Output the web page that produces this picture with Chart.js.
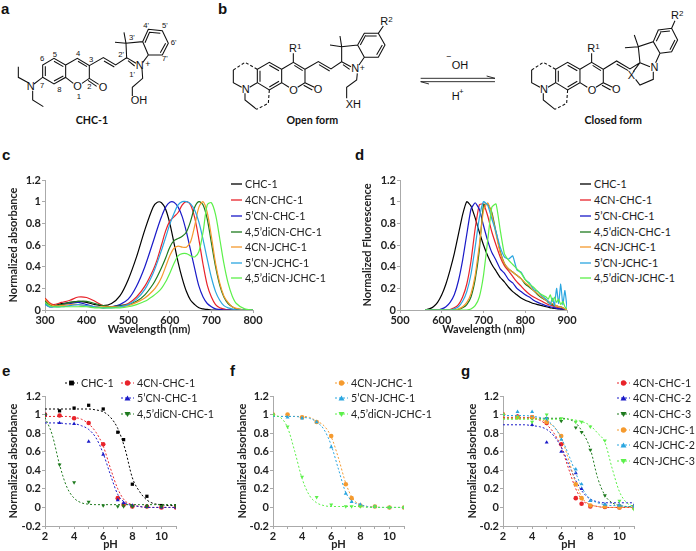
<!DOCTYPE html>
<html>
<head>
<meta charset="utf-8">
<title>CHC-1 probes</title>
<script src="https://cdn.jsdelivr.net/npm/chart.js@4"></script>
<style>
  html, body { margin: 0; padding: 0; background: #fff; }
  body { position: relative; width: 696px; height: 551px; overflow: hidden; font-family: Lato, sans-serif; }
  canvas { position: absolute; }
  #structures { position: absolute; left: 0; top: 0; }
  #structures text { font-family: "Liberation Sans", sans-serif; fill: #111; }
  #structures text.cap { font-family: Lato, sans-serif; }
  .letter { position: absolute; font: bold 15px "Liberation Sans", sans-serif; color: #111; }
  .leg { position: absolute; font-size: 10.7px; line-height: 14px; color: #222; white-space: nowrap; z-index: 2; }
  .leg svg { position: absolute; top: 0; }
</style>
</head>
<body>
<svg id="structures" width="696" height="170" xmlns="http://www.w3.org/2000/svg">
  <g transform="scale(0.3333)" fill="none" stroke="#111" stroke-width="3.2">
    <path d="M85 248L55 232L55 200M98 272L98 300L130 320M102 252L128 232L128 195L162 175L197 195L197 232L162 252L128 232M136 228L136 199M162 184L190 200M162 243L190 228M197 195L232 175L268 197L268 235L246 250M220 250L197 232M234 184L261 200M268 235L296 253M264 241L290 259M268 197L310 173L347 195L380 173L378 130L428 125L445 165L428 188M312 183L343 201M380 173L408 190M384 182L404 198M378 130L372 97M378 130L345 127M428 125L445 88L487 92L505 130L487 165L445 165M448 97L481 100M497 130L481 158M435 128L449 96M426 205L428 235L397 262L397 288"/>
  </g>
  <g transform="translate(225,0) scale(0.3333)" fill="none" stroke="#111" stroke-width="3.2">
    <path stroke-dasharray="9 6" d="M25 210L60 187L97 208M133 270L130 310L95 328"/>
    <path d="M25 210L25 248L50 262M60 280L60 300L95 328M74 262L97 248L97 208L133 187L170 208L170 248L133 270L97 248M105 245L105 212M133 196L162 212M162 244L133 261M170 208L205 187L240 208L240 248L218 262M192 262L170 248M208 196L233 212M240 248L268 262M236 256L262 270M205 187L205 160M240 208L280 185L318 207L350 185L350 140L398 135L418 172L402 195M282 194L314 213M350 185L378 200M354 194L374 208M350 140L345 108M350 140L315 135M398 135L418 100L460 100L480 135L460 172L418 172M423 108L455 108M472 135L455 164M406 135L422 106M460 100L475 78M397 220L395 240L365 262L365 295"/>
    <path stroke-dasharray="9 6" d="M920 210L955 187L992 208M1028 270L1025 310L990 328"/>
    <path d="M920 210L920 248L945 262M955 280L955 300L990 328M969 262L992 248L992 208L1028 187L1065 208L1065 248L1028 270L992 248M1000 245L1000 212M1028 196L1057 212M1057 244L1028 261M1065 208L1100 187L1135 208L1135 248L1113 262M1087 262L1065 248M1103 196L1128 212M1135 248L1163 262M1131 256L1157 270M1100 187L1100 160M1135 208L1175 183L1215 207L1245 188L1240 140L1285 125L1305 160L1292 188M1175 192L1210 212M1240 140L1228 105M1240 140L1200 143M1285 125L1300 90L1340 85L1358 120L1340 155L1305 160M1305 96L1335 93M1350 120L1335 149M1294 124L1307 98M1340 85L1350 62M1245 188L1275 200M1285 215L1285 238L1245 255L1232 238M1245 188L1225 215"/>
    <path d="M587 235L810 235M785 228L810 235M587 245L810 245M612 252L587 245" stroke-width="2.6"/>
  </g>
  <g transform="scale(0.3333)" font-size="33">
    <text x="80" y="270">N</text><text x="220" y="270">O</text><text x="296" y="273">O</text>
    <text x="407" y="206">N</text><text x="392" y="312">OH</text>
    <text x="436" y="200" font-size="26">+</text>
    <g font-size="23">
      <text x="120" y="184">6</text><text x="158" y="170">5</text><text x="228" y="168">4</text><text x="267" y="187">3</text>
      <text x="120" y="264">7</text><text x="172" y="276">8</text><text x="230" y="298">1</text><text x="262" y="266">2</text>
      <text x="387" y="120">3'</text><text x="430" y="84">4'</text><text x="486" y="84">5'</text><text x="512" y="134">6'</text>
      <text x="486" y="184">7'</text><text x="355" y="172">2'</text><text x="388" y="230">1'</text>
    </g>
    <text class="cap" x="276" y="372" font-weight="bold" font-size="32" text-anchor="middle">CHC-1</text>
  </g>
  <g transform="translate(225,0) scale(0.3333)" font-size="33">
    <text x="50" y="280">N</text><text x="193" y="282">O</text><text x="266" y="280">O</text>
    <text x="192" y="155">R</text><text x="216" y="146" font-size="24">1</text>
    <text x="466" y="75">R</text><text x="490" y="66" font-size="24">2</text>
    <text x="379" y="217">N</text><text x="404" y="212" font-size="26">+</text>
    <text x="362" y="324">XH</text>
    <text class="cap" x="262" y="372" font-weight="bold" font-size="32" text-anchor="middle">Open form</text>
    <text x="663" y="178" font-size="26">−</text><text x="680" y="208">OH</text>
    <text x="680" y="300">H</text><text x="702" y="282" font-size="24">+</text>
    <text x="945" y="280">N</text><text x="1088" y="282">O</text><text x="1161" y="280">O</text>
    <text x="1087" y="155">R</text><text x="1111" y="146" font-size="24">1</text>
    <text x="1338" y="58">R</text><text x="1362" y="48" font-size="24">2</text>
    <text x="1277" y="214">N</text><text x="1208" y="236">X</text>
    <text class="cap" x="1165" y="372" font-weight="bold" font-size="32" text-anchor="middle">Closed form</text>
  </g>
</svg>

<div class="letter" style="left:1px;top:0px">a</div>
<div class="letter" style="left:218px;top:0px">b</div>
<div class="letter" style="left:2px;top:146px">c</div>
<div class="letter" style="left:355px;top:146px">d</div>
<div class="letter" style="left:2px;top:362px">e</div>
<div class="letter" style="left:230px;top:362px">f</div>
<div class="letter" style="left:461px;top:362px">g</div>

<canvas id="chartC" width="270" height="166" style="left:0;top:170px"></canvas>
<canvas id="chartD" width="225" height="166" style="left:355px;top:170px"></canvas>
<canvas id="chartE" width="190" height="165" style="left:0;top:386px"></canvas>
<canvas id="chartF" width="190" height="165" style="left:228px;top:386px"></canvas>
<canvas id="chartG" width="190" height="165" style="left:458px;top:386px"></canvas>

<script>
// absorbance spectra (panel c)
const absWl = [300,310,320,340,360,380,400,420,440,460,480,500,520,540,560,570,580,590,600,610,620,630,640,650,660,670,680,690,700,710,720,730,740,750,760,780,800];
const absCHC = [.10,.06,.04,.06,.07,.08,.07,.05,.04,.06,.13,.28,.49,.74,.95,.995,.99,.93,.80,.62,.44,.29,.17,.09,.05,.02,.01,.005,0,0,0,0,0,0,0,0,0];
const abs4CN = [.11,.07,.05,.07,.09,.12,.115,.08,.04,.03,.04,.06,.12,.22,.37,.47,.60,.73,.82,.86,.90,.97,1,.97,.85,.65,.42,.23,.12,.05,.02,.01,0,0,0,0,0];
const abs5CN = [.06,.03,.03,.05,.06,.07,.05,.03,.02,.03,.05,.10,.22,.40,.63,.75,.86,.95,.995,.995,.95,.86,.72,.55,.38,.22,.12,.06,.03,.01,.005,0,0,0,0,0,0];
const absDi = [.08,.05,.04,.05,.07,.08,.08,.06,.04,.03,.04,.05,.08,.14,.24,.31,.39,.48,.58,.64,.66,.68,.72,.82,.95,1,.97,.84,.62,.40,.23,.12,.06,.03,.01,0,0];
const absJ4 = [.10,.06,.04,.04,.05,.05,.04,.03,.03,.03,.03,.04,.07,.11,.18,.23,.30,.40,.50,.57,.59,.58,.58,.63,.78,.95,1,.90,.68,.43,.25,.13,.07,.03,.015,0,0];
const absJ5 = [.05,.03,.03,.03,.04,.05,.04,.03,.02,.02,.03,.05,.10,.19,.34,.44,.55,.67,.79,.89,.97,1,1,.98,.92,.81,.65,.47,.30,.17,.09,.04,.02,.01,0,0,0];
const absJDi = [.07,.04,.03,.03,.03,.03,.03,.02,.02,.02,.02,.03,.05,.08,.13,.16,.20,.26,.34,.43,.50,.52,.52,.50,.49,.54,.72,.97,.99,.88,.66,.43,.25,.13,.06,.01,0];

// fluorescence spectra (panel d)
const fluWl = [560,570,580,590,600,610,620,630,640,650,660,670,680,690,700,710,720,730,740,750,760,770,780,790,800,810,820,830,840,850,855,860,865,870,875,880,885,890,895,900];
const fluCHC = [0,.01,.03,.07,.14,.24,.37,.52,.70,.88,1,.96,.85,.72,.60,.50,.42,.36,.30,.26,.21,.17,.14,.11,.09,.075,.06,.05,.04,.03,.025,.02,.018,.015,.012,.01,.008,.006,.004,.002];
const flu4CN = [0,0,0,0,0,0,.005,.02,.05,.12,.24,.45,.75,.97,.98,.87,.72,.60,.49,.41,.36,.31,.26,.22,.18,.145,.12,.10,.08,.06,.05,.045,.04,.03,.025,.02,.015,.01,.005,0];
const flu5CN = [0,0,0,0,.01,.03,.07,.14,.27,.46,.70,.93,.99,.93,.78,.64,.53,.46,.38,.34,.28,.25,.20,.17,.14,.12,.09,.07,.055,.04,.035,.03,.025,.02,.015,.012,.01,.008,.005,.002];
const fluDi = [0,0,0,0,0,0,0,0,.005,.02,.05,.12,.28,.55,.97,.98,.90,.72,.54,.43,.38,.35,.32,.29,.24,.21,.18,.14,.11,.09,.07,.06,.05,.04,.04,.03,.03,.02,.01,0];
const fluJ4 = [0,0,0,0,0,0,0,0,.01,.03,.07,.15,.32,.60,.92,.99,.88,.70,.53,.43,.38,.35,.32,.29,.25,.22,.18,.15,.12,.09,.08,.07,.06,.05,.04,.03,.03,.02,.01,0];
const fluJ5 = [0,0,0,0,0,0,0,.01,.03,.08,.17,.33,.58,.85,1,.97,.84,.72,.58,.49,.47,.50,.37,.35,.28,.25,.19,.17,.13,.10,.08,.05,.11,.04,.20,.06,.24,.05,.18,.02];
const fluJDi = [0,0,0,0,0,0,0,0,0,0,0,.01,.04,.12,.32,.64,.95,.98,.74,.52,.46,.42,.38,.34,.28,.24,.21,.17,.14,.12,.10,.14,.08,.12,.07,.10,.05,.08,.03,.01];

// titration points and fitted curves (panels e, f, g)
const phPts = [2,3,4,5,6,7,7.4,8,9,10,11];
const phFit = [2,2.5,3,3.5,4,4.5,5,5.5,6,6.5,7,7.5,8,8.5,9,9.5,10,10.5,11];

const eCHC = [1,1.04,1.07,1.10,1.06,.81,.73,.25,.12,.02,.02];
const eCHCfit = [1.06,1.06,1.06,1.06,1.06,1.06,1.06,1.05,1.03,.97,.85,.63,.32,.17,.08,.04,.03,.02,.02];
const e4CN = [1,.99,.96,.91,.68,.10,.03,.01,.01,0,0];
const e4CNfit = [.98,.98,.98,.98,.97,.95,.90,.81,.66,.42,.20,.07,.03,.01,0,0,0,0,0];
const e5CN = [1,.91,.90,.71,.57,.08,.05,.02,.01,0,0];
const e5CNfit = [.91,.91,.91,.90,.90,.88,.84,.75,.58,.35,.14,.05,.02,.01,0,0,0,0,0];
const eDi = [1,.46,.27,.06,.02,.01,.01,.01,.01,.01,.01];
const eDifit = [.97,.78,.46,.22,.10,.05,.035,.03,.03,.03,.03,.03,.03,.03,.03,.03,.03,.03,.03];

const fJ4 = [1,1,.97,.92,.77,.25,.10,.02,.01,0,0];
const fJ4fit = [.98,.98,.98,.98,.98,.97,.93,.88,.76,.53,.26,.09,.03,.01,.005,0,0,0,0];
const fJ5 = [1,.97,.96,.92,.65,.15,.06,.03,.01,0,0];
const fJ5fit = [.98,.98,.98,.98,.97,.96,.92,.84,.67,.41,.16,.06,.03,.01,0,0,0,0,0];
const fJDi = [1,.87,.33,.11,.03,.01,.01,.01,.01,0,0];
const fJDifit = [.99,.97,.86,.60,.31,.13,.05,.02,.01,.01,.01,.01,.01,0,0,0,0,0,0];

const g1 = [1,.98,.97,.91,.68,.10,.04,.01,.005,0,0];
const g1fit = [.97,.97,.97,.97,.96,.94,.89,.80,.65,.42,.20,.07,.03,.01,0,0,0,0,0];
const g2 = [1,.98,.89,.70,.60,.37,.20,.07,.03,.02,.02];
const g2fit = [.89,.89,.89,.89,.88,.87,.84,.77,.65,.47,.29,.16,.09,.06,.05,.05,.05,.05,.05];
const g3 = [1,.98,.96,.96,.93,.86,.81,.62,.13,.02,.01];
const g3fit = [.96,.96,.96,.96,.96,.96,.96,.96,.96,.95,.91,.80,.63,.32,.13,.05,.02,.01,.01];
const g4 = [1,.97,.97,.92,.77,.25,.10,.02,.01,0,0];
const g4fit = [.96,.96,.96,.96,.96,.95,.92,.87,.75,.52,.26,.09,.03,.01,0,0,0,0,0];
const g5 = [1,1.03,1.03,.96,.73,.41,.25,.07,.03,.02,.01];
const g5fit = [.99,.99,.99,.99,.98,.97,.94,.87,.75,.57,.37,.19,.09,.05,.03,.02,.02,.01,.01];
const g6 = [1,.97,.92,1,.96,.92,.92,.87,.72,.07,-.02];
const g6fit = [.95,.95,.95,.95,.95,.95,.95,.95,.95,.95,.94,.92,.88,.80,.70,.42,.17,.05,.01];

const xTicksAbs = [300,400,500,600,700,800];
const xTicksFlu = [500,600,700,800,900];
const xTicksPh = [2,3,4,5,6,7,8,9,10,11];
const yTicksSpec = [0,0.2,0.4,0.6,0.8,1,1.2];
const yTicksPh = [-0.2,0,0.2,0.4,0.6,0.8,1,1.2];

const BLACK = '#000000', RED = '#e8232a', BLUE = '#1a1ac8', DKGREEN = '#1e7a1e',
      ORANGE = '#f59a2e', CYAN = '#2aa6e0', LTGREEN = '#5cf04a';
const AXIS = '#aaaaaa';

function pts(xs, ys) {
  return xs.map((x, i) => ({ x: x, y: ys[i] }));
}

function scaleOpts(ticks, min, max, size, titleText, titlePad, evenOnly) {
  return {
    type: 'linear',
    min: min,
    max: max,
    afterBuildTicks: s => { s.ticks = ticks.map(v => ({ value: v })); },
    afterFit: s => {
      if (s.isHorizontal()) s.height = size; else s.width = size;
    },
    border: { color: AXIS, width: 1 },
    grid: { drawOnChartArea: false, color: AXIS, tickLength: 3 },
    ticks: {
      autoSkip: false,
      maxRotation: 0,
      padding: 1,
      color: '#222',
      font: { family: 'Lato', weight: 'bold', size: 11 },
      callback: v => (evenOnly && v % 2 ? '' : String(v))
    },
    title: {
      display: true,
      text: titleText,
      color: '#222',
      padding: titlePad,
      font: { family: 'Lato', weight: 'bold', size: 11 }
    }
  };
}

function draw(id, padRight, xs, ys, datasets) {
  new Chart(document.getElementById(id), {
    type: 'scatter',
    data: { datasets: datasets },
    options: {
      responsive: false,
      animation: false,
      layout: { padding: { top: 10, right: padRight, left: 0, bottom: 0 } },
      plugins: { legend: { display: false }, tooltip: { enabled: false } },
      scales: { x: xs, y: ys }
    }
  });
}

// last listed series sits on top, same as the original
function specSets(wl, list, tension) {
  return list.map((s, i) => ({
    data: pts(wl, s[0]),
    showLine: true,
    borderColor: s[1],
    borderWidth: 1.2,
    pointRadius: 0,
    tension: tension,
    order: list.length - i
  }));
}

function phSets(list) {
  const sets = [];
  list.forEach((s, i) => {
    sets.push({
      data: pts(phFit, s.fit),
      showLine: true,
      borderColor: s.color,
      borderWidth: 1,
      borderDash: [2, 2],
      pointRadius: 0,
      cubicInterpolationMode: 'monotone',
      order: 2 * (list.length - i)
    });
    sets.push({
      data: pts(phPts, s.pts),
      showLine: false,
      pointStyle: s.shape,
      pointRotation: s.rot || 0,
      pointRadius: 2.3,
      pointBorderWidth: 0,
      backgroundColor: s.color,
      order: 2 * (list.length - i) - 1
    });
  });
  return sets;
}

const seven = [
  ['CHC-1', BLACK], ['4CN-CHC-1', RED], ['5’CN-CHC-1', BLUE], ['4,5’diCN-CHC-1', DKGREEN],
  ['4CN-JCHC-1', ORANGE], ['5’CN-JCHC-1', CYAN], ['4,5’diCN-JCHC-1', LTGREEN]
];

draw('chartC', 17,
  scaleOpts(xTicksAbs, 300, 800, 26, 'Wavelength (nm)', { top: 0, bottom: 0 }),
  scaleOpts(yTicksSpec, 0, 1.2, 45, 'Normalized absorbance', { top: 7, bottom: 0 }),
  specSets(absWl, [[absCHC, BLACK], [abs4CN, RED], [abs5CN, BLUE], [absDi, DKGREEN], [absJ4, ORANGE], [absJ5, CYAN], [absJDi, LTGREEN]], 0.3));

draw('chartD', 13,
  scaleOpts(xTicksFlu, 500, 900, 26, 'Wavelength (nm)', { top: 0, bottom: 0 }),
  scaleOpts(yTicksSpec, 0, 1.2, 45, 'Normalized Fluorescence', { top: 6, bottom: 0 }),
  specSets(fluWl, [[fluCHC, BLACK], [flu4CN, RED], [flu5CN, BLUE], [fluDi, DKGREEN], [fluJ4, ORANGE], [fluJ5, CYAN], [fluJDi, LTGREEN]], 0.15));

const seriesE = [
  { name: 'CHC-1', color: BLACK, shape: 'rect', pts: eCHC, fit: eCHCfit },
  { name: '4CN-CHC-1', color: RED, shape: 'circle', pts: e4CN, fit: e4CNfit },
  { name: '5’CN-CHC-1', color: BLUE, shape: 'triangle', pts: e5CN, fit: e5CNfit },
  { name: '4,5’diCN-CHC-1', color: DKGREEN, shape: 'triangle', rot: 180, pts: eDi, fit: eDifit }
];
const seriesF = [
  { name: '4CN-JCHC-1', color: ORANGE, shape: 'circle', pts: fJ4, fit: fJ4fit },
  { name: '5’CN-JCHC-1', color: CYAN, shape: 'triangle', pts: fJ5, fit: fJ5fit },
  { name: '4,5’diCN-JCHC-1', color: LTGREEN, shape: 'triangle', rot: 180, pts: fJDi, fit: fJDifit }
];
const seriesG = [
  { name: '4CN-CHC-1', color: RED, shape: 'circle', pts: g1, fit: g1fit },
  { name: '4CN-CHC-2', color: BLUE, shape: 'triangle', pts: g2, fit: g2fit },
  { name: '4CN-CHC-3', color: DKGREEN, shape: 'triangle', rot: 180, pts: g3, fit: g3fit },
  { name: '4CN-JCHC-1', color: ORANGE, shape: 'circle', pts: g4, fit: g4fit },
  { name: '4CN-JCHC-2', color: CYAN, shape: 'triangle', pts: g5, fit: g5fit },
  { name: '4CN-JCHC-3', color: LTGREEN, shape: 'triangle', rot: 180, pts: g6, fit: g6fit }
];

const phY = pad => scaleOpts(yTicksPh, -0.2, 1.2, 45, 'Normalized absorbance', { top: pad, bottom: 0 });
const phX = () => scaleOpts(xTicksPh, 2, 11, 25, 'pH', { top: 0, bottom: 0 }, true);
draw('chartE', 14, phX(), phY(7), phSets(seriesE));
draw('chartF', 14, phX(), phY(8), phSets(seriesF));
draw('chartG', 14, phX(), phY(8), phSets(seriesG));

// html legends
function addLegend(x, y, width, name, color, shape, rot, dashed) {
  const el = document.createElement('div');
  el.className = 'leg';
  el.style.left = (x + width + 3) + 'px';
  el.style.top = (y - 7) + 'px';
  el.textContent = name;
  const ns = 'http://www.w3.org/2000/svg';
  const svg = document.createElementNS(ns, 'svg');
  svg.setAttribute('width', width);
  svg.setAttribute('height', 14);
  svg.style.left = -(width + 3) + 'px';
  const line = document.createElementNS(ns, 'line');
  line.setAttribute('x1', 0); line.setAttribute('x2', width);
  line.setAttribute('y1', 7); line.setAttribute('y2', 7);
  line.setAttribute('stroke', color);
  line.setAttribute('stroke-width', dashed ? 1 : 1.3);
  if (dashed) line.setAttribute('stroke-dasharray', '2 2');
  svg.appendChild(line);
  if (shape) {
    const c = width / 2;
    let m;
    if (shape === 'circle') {
      m = document.createElementNS(ns, 'circle');
      m.setAttribute('cx', c); m.setAttribute('cy', 7); m.setAttribute('r', 2.7);
    } else if (shape === 'rect') {
      m = document.createElementNS(ns, 'rect');
      m.setAttribute('x', c - 2.4); m.setAttribute('y', 4.6);
      m.setAttribute('width', 4.8); m.setAttribute('height', 4.8);
    } else {
      m = document.createElementNS(ns, 'path');
      m.setAttribute('d', rot ? `M${c - 3} 5L${c + 3} 5L${c} 10Z` : `M${c - 3} 9.5L${c + 3} 9.5L${c} 4.5Z`);
    }
    m.setAttribute('fill', color);
    svg.appendChild(m);
  }
  el.appendChild(svg);
  document.body.appendChild(el);
}

const legRowsSpec = [184, 200, 216, 232, 247, 263, 278];
seven.forEach((s, i) => addLegend(231, legRowsSpec[i], 11, s[0], s[1]));
seven.forEach((s, i) => addLegend(580, legRowsSpec[i], 11, s[0], s[1]));

const legRowsPh = [383, 398, 414, 430, 445, 461];
addLegend(65, 383, 13, seriesE[0].name, BLACK, 'rect', 0, true);
addLegend(121, 383, 13, seriesE[1].name, RED, 'circle', 0, true);
addLegend(121, 398, 13, seriesE[2].name, BLUE, 'triangle', 0, true);
addLegend(121, 414, 13, seriesE[3].name, DKGREEN, 'triangle', 180, true);
seriesF.forEach((s, i) => addLegend(335, legRowsPh[i], 13, s.name, s.color, s.shape, s.rot, true));
seriesG.forEach((s, i) => addLegend(617, legRowsPh[i], 13, s.name, s.color, s.shape, s.rot, true));
</script>
</body>
</html>
